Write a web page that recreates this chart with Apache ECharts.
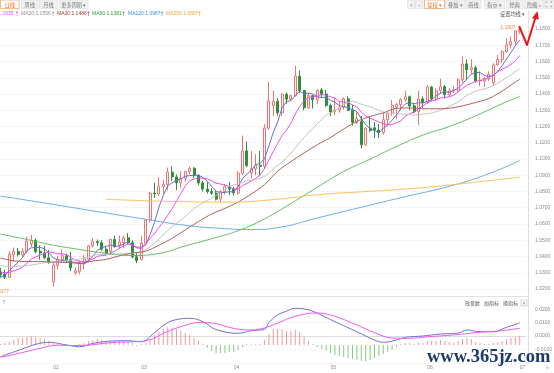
<!DOCTYPE html>
<html><head><meta charset="utf-8">
<script src="https://cdn.jsdelivr.net/npm/echarts@6.0.0/dist/echarts.min.js"></script>
<style>html,body{margin:0;padding:0;background:#fff;overflow:hidden}#c{width:554px;height:373px}</style>
</head><body><div id="c"></div>
<script>
// ---------- categories (trading days) ----------
const dates = ['01-16','01-17','01-20','01-21','01-22','01-23','01-24','01-27','01-28','01-29','01-30','01-31',
'02-03','02-04','02-05','02-06','02-07','02-10','02-11','02-12','02-13','02-14','02-17','02-18','02-19','02-20','02-21','02-24','02-25','02-26','02-27','02-28',
'03-03','03-04','03-05','03-06','03-07','03-10','03-11','03-12','03-13','03-14','03-17','03-18','03-19','03-20','03-21','03-24','03-25','03-26','03-27','03-28','03-31',
'04-01','04-02','04-03','04-04','04-07','04-08','04-09','04-10','04-11','04-14','04-15','04-16','04-17','04-18','04-21','04-22','04-23','04-24','04-25','04-28','04-29','04-30',
'05-01','05-02','05-05','05-06','05-07','05-08','05-09','05-12','05-13','05-14','05-15','05-16','05-19','05-20','05-21','05-22','05-23','05-26','05-27','05-28','05-29','05-30',
'06-02','06-03','06-04','06-05','06-06','06-09','06-10','06-11','06-12','06-13','06-16','06-17','06-18','06-19','06-20','06-23','06-24','06-25','06-26','06-27','06-30',
'07-01'];

// ---------- daily OHLC ----------
const opens = [1.0305,1.0292,1.0272,1.0410,1.0432,1.0412,1.0432,1.0478,1.0500,1.0432,1.0422,1.0392,
1.0245,1.0345,1.0380,1.0405,1.0382,1.0300,1.0308,1.0362,1.0385,1.0465,1.0492,1.0485,1.0445,1.0430,1.0505,1.0470,1.0485,1.0515,1.0485,1.0398,
1.0382,1.0482,1.0625,1.0790,1.0785,1.0830,1.0845,1.0919,1.0890,1.0853,1.0882,1.0922,1.0943,1.0900,1.0853,1.0815,1.0800,1.0790,1.0753,1.0800,1.0830,
1.0815,1.0792,1.0912,1.1050,1.0915,1.0940,1.0962,1.0955,1.1190,1.1330,1.1355,1.1285,1.1398,1.1368,1.1390,1.1510,1.1422,1.1315,1.1390,1.1365,1.1425,1.1400,
1.1330,1.1290,1.1302,1.1318,1.1370,1.1300,1.1225,1.1230,1.1088,1.1190,1.1192,1.1178,1.1163,1.1242,1.1282,1.1320,1.1335,1.1365,1.1383,1.1327,1.1290,1.1370,
1.1348,1.1443,1.1370,1.1420,1.1445,1.1397,1.1420,1.1425,1.1487,1.1585,1.1550,1.1562,1.1480,1.1480,1.1495,1.1470,1.1580,1.1612,1.1660,1.1702,1.1722,
1.1788];
const closes = [1.0290,1.0272,1.0415,1.0432,1.0412,1.0432,1.0495,1.0500,1.0430,1.0422,1.0392,1.0362,
1.0348,1.0380,1.0405,1.0382,1.0330,1.0312,1.0362,1.0385,1.0465,1.0492,1.0485,1.0445,1.0422,1.0505,1.0460,1.0490,1.0515,1.0485,1.0398,1.0375,
1.0482,1.0625,1.0790,1.0785,1.0833,1.0845,1.0919,1.0890,1.0853,1.0882,1.0922,1.0943,1.0900,1.0853,1.0815,1.0800,1.0790,1.0753,1.0800,1.0830,1.0815,
1.0792,1.0912,1.1050,1.0960,1.0940,1.0962,1.0955,1.1190,1.1357,1.1355,1.1285,1.1398,1.1368,1.1390,1.1510,1.1422,1.1315,1.1390,1.1365,1.1422,1.1400,1.1330,
1.1290,1.1302,1.1318,1.1370,1.1300,1.1225,1.1250,1.1088,1.1190,1.1175,1.1178,1.1163,1.1242,1.1282,1.1330,1.1335,1.1365,1.1383,1.1327,1.1290,1.1370,1.1348,
1.1443,1.1370,1.1420,1.1445,1.1397,1.1420,1.1425,1.1487,1.1585,1.1550,1.1562,1.1480,1.1485,1.1495,1.1522,1.1580,1.1612,1.1660,1.1702,1.1722,1.1788,
1.1795];
const lows = [1.0270,1.0262,1.0268,1.0370,1.0400,1.0395,1.0420,1.0460,1.0420,1.0380,1.0385,1.0355,
1.0214,1.0320,1.0360,1.0360,1.0310,1.0285,1.0290,1.0320,1.0375,1.0455,1.0465,1.0435,1.0405,1.0410,1.0455,1.0450,1.0450,1.0475,1.0390,1.0359,
1.0375,1.0468,1.0610,1.0760,1.0770,1.0790,1.0810,1.0865,1.0808,1.0820,1.0860,1.0905,1.0885,1.0840,1.0800,1.0787,1.0780,1.0745,1.0733,1.0780,1.0780,
1.0775,1.0780,1.0900,1.0950,1.0880,1.0900,1.0900,1.0940,1.1180,1.1265,1.1265,1.1265,1.1340,1.1360,1.1385,1.1405,1.1300,1.1310,1.1310,1.1340,1.1380,1.1320,
1.1265,1.1270,1.1285,1.1305,1.1295,1.1205,1.1215,1.1065,1.1080,1.1165,1.1130,1.1130,1.1150,1.1210,1.1265,1.1245,1.1300,1.1355,1.1300,1.1280,1.1210,1.1315,
1.1340,1.1360,1.1355,1.1400,1.1372,1.1385,1.1405,1.1410,1.1470,1.1490,1.1525,1.1470,1.1447,1.1445,1.1480,1.1452,1.1575,1.1590,1.1655,1.1680,1.1700,
1.1770];
const highs = [1.0330,1.0318,1.0434,1.0455,1.0452,1.0450,1.0522,1.0533,1.0510,1.0468,1.0466,1.0440,
1.0360,1.0405,1.0442,1.0418,1.0430,1.0335,1.0375,1.0410,1.0470,1.0513,1.0505,1.0500,1.0460,1.0510,1.0528,1.0528,1.0530,1.0545,1.0500,1.0420,
1.0528,1.0630,1.0797,1.0854,1.0888,1.0870,1.0947,1.0955,1.0905,1.0925,1.0928,1.0955,1.0950,1.0905,1.0865,1.0861,1.0820,1.0802,1.0810,1.0845,1.0858,
1.0830,1.0925,1.1144,1.1107,1.1050,1.1030,1.1050,1.1214,1.1474,1.1420,1.1375,1.1405,1.1410,1.1395,1.1574,1.1545,1.1425,1.1405,1.1395,1.1428,1.1438,1.1425,
1.1340,1.1380,1.1355,1.1380,1.1385,1.1335,1.1290,1.1265,1.1195,1.1265,1.1228,1.1215,1.1287,1.1285,1.1363,1.1345,1.1375,1.1420,1.1390,1.1345,1.1420,1.1385,
1.1455,1.1450,1.1435,1.1495,1.1455,1.1435,1.1450,1.1497,1.1631,1.1613,1.1614,1.1575,1.1540,1.1505,1.1540,1.1590,1.1641,1.1670,1.1744,1.1755,1.1790,
1.1807];

// ---------- moving averages ----------
const ma5 = [1.0276,1.0281,1.0315,1.0340,1.0364,1.0393,1.0437,1.0454,1.0454,1.0456,1.0448,1.0421,
1.0391,1.0381,1.0377,1.0375,1.0369,1.0362,1.0358,1.0354,1.0371,1.0403,1.0438,1.0454,1.0462,1.0470,1.0463,1.0464,1.0478,1.0491,1.0470,1.0453,
1.0451,1.0473,1.0534,1.0611,1.0703,1.0776,1.0834,1.0854,1.0868,1.0878,1.0893,1.0898,1.0900,1.0900,1.0887,1.0862,1.0832,1.0802,1.0792,1.0795,1.0798,
1.0798,1.0830,1.0880,1.0906,1.0931,1.0965,1.0973,1.1001,1.1081,1.1164,1.1228,1.1317,1.1353,1.1359,1.1390,1.1418,1.1401,1.1405,1.1400,1.1383,1.1378,1.1381,
1.1361,1.1349,1.1328,1.1322,1.1316,1.1303,1.1293,1.1247,1.1211,1.1186,1.1176,1.1159,1.1190,1.1208,1.1239,1.1270,1.1311,1.1339,1.1348,1.1340,1.1347,1.1344,
1.1356,1.1364,1.1390,1.1405,1.1415,1.1410,1.1421,1.1435,1.1463,1.1493,1.1522,1.1533,1.1532,1.1514,1.1509,1.1512,1.1539,1.1574,1.1615,1.1655,1.1697,
1.1733];
const ma10 = [1.0304,1.0300,1.0303,1.0312,1.0321,1.0334,1.0359,1.0385,1.0397,1.0410,1.0420,1.0429,
1.0423,1.0417,1.0417,1.0412,1.0395,1.0376,1.0370,1.0366,1.0373,1.0386,1.0400,1.0406,1.0408,1.0420,1.0433,1.0451,1.0466,1.0476,1.0470,1.0458,
1.0458,1.0476,1.0513,1.0541,1.0578,1.0613,1.0654,1.0694,1.0740,1.0790,1.0834,1.0866,1.0877,1.0884,1.0882,1.0878,1.0865,1.0851,1.0846,1.0841,1.0830,
1.0815,1.0816,1.0836,1.0850,1.0864,1.0881,1.0902,1.0941,1.0993,1.1047,1.1097,1.1145,1.1177,1.1220,1.1277,1.1323,1.1359,1.1379,1.1380,1.1387,1.1398,1.1391,
1.1383,1.1375,1.1355,1.1350,1.1349,1.1332,1.1321,1.1287,1.1266,1.1251,1.1240,1.1226,1.1218,1.1209,1.1212,1.1223,1.1235,1.1264,1.1278,1.1290,1.1309,1.1327,
1.1347,1.1356,1.1365,1.1376,1.1379,1.1383,1.1393,1.1413,1.1434,1.1454,1.1466,1.1477,1.1484,1.1489,1.1501,1.1517,1.1536,1.1553,1.1565,1.1582,1.1605,
1.1636];
// [day index, value]
const ma20 = [[0,1.0345],[2,1.0337],[4,1.0340],[6,1.0344],[8,1.0352],[10,1.0362],[12,1.0363],[14,1.0369],[16,1.0377],[18,1.0383],[20,1.0397],[22,1.0411],[24,1.0412],[26,1.0414],[28,1.0418],[30,1.0421],[32,1.0429],[34,1.0460],[36,1.0506],[38,1.0560],[40,1.0605],[42,1.0646],[44,1.0695],[46,1.0730],[48,1.0759],[50,1.0793],[52,1.0832],[54,1.0847],[56,1.0866],[58,1.0873],[60,1.0893],[62,1.0939],[64,1.0981],[66,1.1035],[68,1.1102],[70,1.1160],[72,1.1217],[74,1.1268],[76,1.1297],[78,1.1337],[80,1.1356],[82,1.1337],[84,1.1321],[86,1.1300],[88,1.1280],[90,1.1278],[92,1.1276],[94,1.1270],[96,1.1277],[98,1.1283],[100,1.1300],[102,1.1324],[104,1.1351],[106,1.1391],[108,1.1417],[110,1.1432],[112,1.1450],[114,1.1483],[116,1.1518],[118,1.1557]];
const ma30 = [[0,1.0391],[3,1.0373],[6,1.0369],[9,1.0369],[12,1.0366],[15,1.0364],[18,1.0358],[21,1.0372],[24,1.0382],[27,1.0404],[30,1.0421],[33,1.0433],[36,1.0469],[39,1.0512],[42,1.0564],[45,1.0615],[48,1.0662],[51,1.0696],[54,1.0735],[57,1.0785],[60,1.0842],[63,1.0926],[66,1.0984],[69,1.1037],[72,1.1088],[75,1.1132],[78,1.1185],[81,1.1231],[84,1.1262],[87,1.1284],[90,1.1312],[93,1.1314],[96,1.1309],[99,1.1309],[102,1.1312],[105,1.1327],[108,1.1348],[111,1.1372],[114,1.1418],[117,1.1473],[118,1.1490]];
const ma60 = [[0,1.0538],[6,1.0505],[12,1.0470],[18,1.0443],[24,1.0420],[30,1.0406],[36,1.0419],[42,1.0465],[48,1.0510],[54,1.0559],[60,1.0632],[66,1.0726],[72,1.0826],[78,1.0923],[84,1.0999],[90,1.1077],[96,1.1147],[102,1.1200],[108,1.1266],[114,1.1340],[118,1.1385]];
const ma120 = [[0,1.0772],[11,1.0725],[23,1.0672],[34,1.0625],[42,1.0592],[50,1.0573],[57,1.0566],[64,1.0582],[71,1.0630],[80,1.0690],[91,1.0762],[102,1.0832],[110,1.0900],[118,1.0990]];
const ma250 = [[24,1.0752],[30,1.0746],[42,1.0737],[52,1.0735],[62,1.0750],[72,1.0780],[82,1.0798],[92,1.0815],[102,1.0840],[110,1.0864],[118,1.0887]];

// ---------- MACD panel ----------
const dif = [[0,-0.0154],[4,-0.0108],[8,-0.0062],[11,-0.0047],[15,-0.0067],[18,-0.0080],[21,-0.0055],[25,-0.0038],[29,-0.0035],[32,-0.0043],[35,0.0025],[38,0.0100],[41,0.0128],[43,0.0132],[46,0.0107],[49,0.0048],[54,0.0020],[57,0.0040],[60,0.0050],[61,0.0100],[63,0.0157],[65,0.0185],[67,0.0207],[70,0.0195],[72,0.0170],[76,0.0107],[81,0.0032],[85,-0.0030],[87,-0.0047],[90,-0.0030],[92,-0.0010],[96,0.0000],[100,0.0015],[104,0.0022],[106,0.0045],[109,0.0032],[112,0.0032],[115,0.0065],[118,0.0097]];
const dea = [[0,-0.0159],[4,-0.0131],[9,-0.0092],[13,-0.0069],[18,-0.0071],[25,-0.0050],[30,-0.0043],[33,-0.0036],[38,0.0034],[42,0.0080],[45,0.0100],[48,0.0097],[53,0.0057],[57,0.0045],[60,0.0060],[63,0.0097],[67,0.0147],[72,0.0172],[76,0.0146],[81,0.0082],[85,0.0025],[89,-0.0015],[93,-0.0017],[97,-0.0006],[103,0.0008],[108,0.0025],[114,0.0040],[118,0.0058]];
const macdBar = [0.0008,0.0015,0.0023,0.0038,0.0053,0.0053,0.0060,0.0068,0.0060,0.0053,0.0045,0.0030,
0.0015,0.0008,0.0008,-0.0008,-0.0008,-0.0008,0.0008,0.0015,0.0030,0.0038,0.0045,0.0038,0.0030,0.0030,0.0038,0.0030,0.0030,0.0023,0.0015,-0.0008,
0.0008,0.0015,0.0045,0.0075,0.0105,0.0120,0.0135,0.0128,0.0120,0.0105,0.0090,0.0075,0.0053,0.0030,0.0008,-0.0023,-0.0045,-0.0060,-0.0060,-0.0060,-0.0053,
-0.0053,-0.0038,-0.0015,0.0008,0.0004,0.0008,0.0008,0.0038,0.0083,0.0120,0.0120,0.0120,0.0105,0.0105,0.0113,0.0098,0.0060,0.0030,0.0008,-0.0015,-0.0030,-0.0045,
-0.0060,-0.0075,-0.0083,-0.0090,-0.0098,-0.0105,-0.0113,-0.0120,-0.0120,-0.0113,-0.0098,-0.0083,-0.0068,-0.0053,-0.0038,-0.0015,0.0008,0.0015,0.0015,0.0008,0.0015,0.0015,
0.0030,0.0030,0.0030,0.0038,0.0030,0.0023,0.0015,0.0030,0.0045,0.0053,0.0045,0.0023,0.0015,0.0008,0.0008,0.0015,0.0023,0.0030,0.0045,0.0053,0.0060,
0.0068];

const priceTicks = {min:1.02, max:1.18, step:0.01};
const macdTicks = {min:-0.02, max:0.03, step:0.01};

// ---------- layout ----------
const BAND = 4.4;
const cats = dates.concat(['']);
const GL = -1.7, GW = cats.length * BAND;
const LF = 'Liberation Sans, Arial, sans-serif';
const CJK = '"Noto Sans CJK SC", sans-serif';

function txt(x, y, text, fill, size, family, align, weight, extra) {
  const st = {text: text, fill: fill, font: (weight || 'normal') + ' ' + size + 'px ' + family,
    align: align || 'left', verticalAlign: 'middle', textAlign: align || 'left', textVerticalAlign: 'middle'};
  if (extra) Object.assign(st, extra);
  return {type: 'text', x: x, y: y, z: 100, silent: true, style: st};
}
function btn(x, w, label, active) {
  return [
    {type: 'rect', z: 99, silent: true, shape: {x: x + 0.5, y: 0, width: w, height: 8.5},
      style: {fill: active ? '#ffffff' : '#f1f1f1', stroke: active ? '#f0873c' : '#dadada', lineWidth: 0.6}},
    txt(x + 0.5 + w / 2, 4.6, label, active ? '#f06a1e' : '#777', 5.2, CJK, 'center')
  ];
}
const gfx = [].concat(
  btn(0, 18.5, '日线', true), btn(21, 16.5, '周线'), btn(39, 18, '月线'), btn(59, 28.5, '更多周期 ▾'),
  btn(407, 7.5, '+'), btn(415, 7.5, '−'), btn(424, 20, '复权 ▾', true), btn(445, 19.5, '叠加 ▾'),
  btn(465.5, 15, '画线'), btn(484, 20, '指示 ▾'), btn(506, 16.5, '经典'), btn(524, 19, '隐藏 »'), btn(544, 9.5, ''),
  [
    {type: 'polyline', z: 101, silent: true, shape: {points: [[546, 3], [546, 1.8], [547.5, 1.8]]}, style: {stroke: '#888', lineWidth: 0.6, fill: null}},
    {type: 'polyline', z: 101, silent: true, shape: {points: [[550, 1.8], [551.5, 1.8], [551.5, 3]]}, style: {stroke: '#888', lineWidth: 0.6, fill: null}},
    {type: 'polyline', z: 101, silent: true, shape: {points: [[546, 5.5], [546, 6.8], [547.5, 6.8]]}, style: {stroke: '#888', lineWidth: 0.6, fill: null}},
    {type: 'polyline', z: 101, silent: true, shape: {points: [[550, 6.8], [551.5, 6.8], [551.5, 5.5]]}, style: {stroke: '#888', lineWidth: 0.6, fill: null}},
    // legend row
    txt(13.5, 14, 'MA10:1.1635', '#e545e5', 5, LF, 'right'),
    txt(17, 14, '↑', '#e545e5', 6, 'DejaVu Sans', 'center'),
    txt(21, 14, 'MA20:1.1556', '#8c8c8c', 5, LF),
    txt(53, 14, '↑', '#8c8c8c', 6, 'DejaVu Sans', 'center'),
    txt(57, 14, 'MA30:1.1486', '#a83a3a', 5, LF),
    txt(88.5, 14, '↑', '#a83a3a', 6, 'DejaVu Sans', 'center'),
    txt(92, 14, 'MA60:1.1381', '#2e9a2e', 5, LF),
    txt(123.5, 14, '↑', '#2e9a2e', 6, 'DejaVu Sans', 'center'),
    txt(128, 14, 'MA120:1.0987', '#3a8fe0', 5, LF),
    txt(162, 14, '↑', '#3a8fe0', 6, 'DejaVu Sans', 'center'),
    txt(166, 14, 'MA250:1.0887', '#f2a535', 5, LF),
    txt(199.5, 14, '↑', '#f2a535', 6, 'DejaVu Sans', 'center'),
    txt(500, 14, '设置均线 ▾', '#555', 5.2, CJK),
    // separators
    {type: 'line', z: 98, silent: true, shape: {x1: 528.5, y1: 10, x2: 528.5, y2: 364}, style: {stroke: '#dedede', lineWidth: 1}},
    {type: 'line', z: 98, silent: true, shape: {x1: 0, y1: 296.5, x2: 528, y2: 296.5}, style: {stroke: '#e2e2e2', lineWidth: 1}},
    // extreme labels
    txt(522, 27.8, '1.1807 →', '#f08a3c', 5, LF, 'right'),
    txt(9, 291.2, '1.0177', '#f08a3c', 5, LF, 'right'),
    // MACD toolbar
    txt(4, 303, '↑', '#888', 5.5, 'DejaVu Sans', 'center'),
    txt(465, 303, '改参数', '#555', 5, CJK),
    txt(484, 303, '加指标', '#555', 5, CJK),
    txt(503, 303, '换指标', '#555', 5, CJK),
    {type: 'rect', z: 100, silent: true, shape: {x: 521, y: 300, width: 6, height: 6}, style: {fill: '#fff', stroke: '#bbb', lineWidth: 0.6}},
    txt(524, 303, '×', '#888', 5.5, LF, 'center'),
    txt(547.5, 367.5, '»', '#999', 6, LF, 'center'),
    // red annotation arrow
    {type: 'polyline', z: 102, silent: true, shape: {points: [[519.5, 27], [527, 45], [535.6, 17]]},
      style: {stroke: '#e81818', lineWidth: 2, fill: null, lineJoin: 'round', lineCap: 'round'}},
    {type: 'polygon', z: 102, silent: true, shape: {points: [[537.5, 11], [532, 18.2], [538.8, 19.6]]},
      style: {fill: '#e81818'}},
    // watermark
    txt(427, 357, 'www.365jz.com', '#1d3a6d', 18.5, '"Liberation Serif", serif', 'left', 'bold',
      {stroke: '#ffffff', lineWidth: 1.2})
  ]
);

const monthStart = i => i > 0 && i < dates.length && dates[i].slice(0, 2) !== dates[i - 1].slice(0, 2);

function maLine(name, data, color, smooth) {
  return {name: name, type: 'line', xAxisIndex: 0, yAxisIndex: 0, data: data, symbol: 'none', smooth: smooth || false,
    clip: false, silent: true, lineStyle: {color: color, width: 1}, z: 3};
}

const option = {
  animation: false,
  backgroundColor: '#ffffff',
  grid: [
    {left: GL, top: 29, width: GW, height: 260, containLabel: false, outerBoundsMode: 'none'},
    {left: GL, top: 295.8, width: GW, height: 67, containLabel: false, outerBoundsMode: 'none'}
  ],
  xAxis: [
    {type: 'category', gridIndex: 0, data: cats, boundaryGap: true,
      axisLine: {show: false}, axisTick: {show: false}, axisLabel: {show: false}, splitLine: {show: false}},
    {type: 'category', gridIndex: 1, data: cats, boundaryGap: true,
      axisLine: {show: true, lineStyle: {color: '#dcdcdc', width: 1}}, axisTick: {show: false}, splitLine: {show: false},
      axisLabel: {show: true, interval: (idx) => monthStart(idx), formatter: v => v.slice(0, 2), align: 'left',
        margin: 2.5, fontSize: 5, fontFamily: LF, color: '#8a8a8a'}}
  ],
  yAxis: [
    {type: 'value', gridIndex: 0, position: 'right', min: priceTicks.min, max: priceTicks.max, interval: priceTicks.step, scale: true,
      axisLine: {show: false}, axisTick: {show: false},
      axisLabel: {formatter: v => v.toFixed(4), margin: 8.7, fontSize: 5, fontFamily: LF, color: '#8a8a8a'},
      splitLine: {show: true, lineStyle: {color: '#ebebeb', width: 1, type: [2, 2]}}},
    {type: 'value', gridIndex: 1, position: 'right', min: macdTicks.min, max: macdTicks.max, interval: macdTicks.step,
      axisLine: {show: false}, axisTick: {show: false},
      axisLabel: {formatter: v => (v > 0.025 || v < -0.015) ? '' : v.toFixed(4), margin: 8.7, fontSize: 5, fontFamily: LF, color: '#8a8a8a'},
      splitLine: {show: true, lineStyle: {color: '#efefef', width: 1, type: [2, 2]}}},
    {type: 'value', gridIndex: 1, min: -0.0133, max: 0.0367, show: false, splitLine: {show: false}}
  ],
  series: [
    {name: 'K', type: 'candlestick', xAxisIndex: 0, yAxisIndex: 0, clip: false, silent: true, z: 2,
      data: opens.map((o, i) => [o, closes[i], lows[i], highs[i]]),
      barWidth: 2.6,
      itemStyle: {color: '#ffffff', color0: '#2f8f3a', borderColor: '#ee7474', borderColor0: '#2f8f3a', borderWidth: 1}},
    maLine('MA5', ma5, '#6b6bcc'),
    maLine('MA10', ma10, '#f04cf0'),
    maLine('MA20', ma20, '#c2c2c2', 0.2),
    maLine('MA30', ma30, '#b35f5f', 0.3),
    maLine('MA60', ma60, '#66bb66', true),
    maLine('MA120', ma120, '#6aaeea', true),
    maLine('MA250', ma250, '#f8c25e', true),
    {name: 'MACD', type: 'bar', xAxisIndex: 1, yAxisIndex: 2, data: macdBar, barWidth: 1, silent: true,
      itemStyle: {color: p => p.value >= 0 ? '#f19a9a' : '#86c886'}},
    {name: 'DIF', type: 'line', xAxisIndex: 1, yAxisIndex: 1, data: dif, symbol: 'none', smooth: 0.4, clip: false, silent: true,
      lineStyle: {color: '#7272cc', width: 1}, z: 3},
    {name: 'DEA', type: 'line', xAxisIndex: 1, yAxisIndex: 1, data: dea, symbol: 'none', smooth: 0.4, clip: false, silent: true,
      lineStyle: {color: '#f25af2', width: 1}, z: 3}
  ],
  graphic: {elements: gfx}
};

const chart = echarts.init(document.getElementById('c'), null, {renderer: 'canvas', width: 554, height: 373});
chart.setOption(option);
</script>
</body></html>
